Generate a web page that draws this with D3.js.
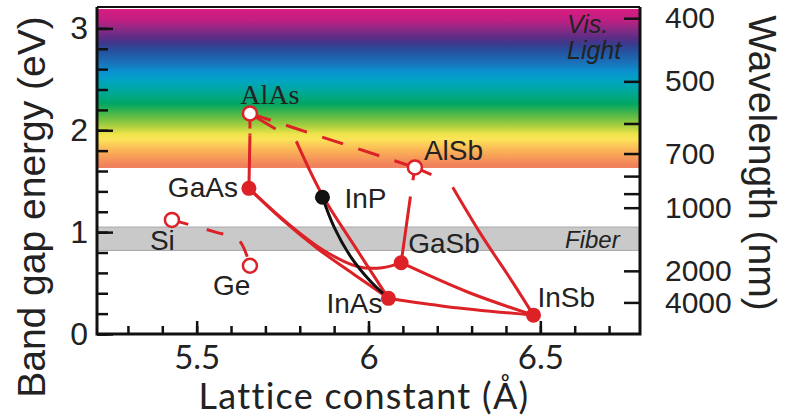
<!DOCTYPE html>
<html>
<head>
<meta charset="utf-8">
<script src="https://cdn.jsdelivr.net/npm/d3@7"></script>
<style>
  body { margin: 0; background: #fff; }
  svg { display: block; }
</style>
</head>
<body>
<svg id="chart" width="788" height="417"></svg>
<script>
// compounds: lattice constant (Å), band gap (eV)
const compounds = ["AlAs", "AlSb", "GaAs", "InP", "GaSb", "InAs", "InSb", "Si", "Ge"]
const latticeConst = [5.655, 6.135, 5.652, 5.866, 6.095, 6.058, 6.48, 5.428, 5.655]
const bandGap = [2.165, 1.635, 1.43, 1.343, 0.70, 0.35, 0.185, 1.12, 0.67]
const gapType = ["indirect", "indirect", "direct", "direct", "direct", "direct", "direct", "indirect", "indirect"]

// alloy curves, points as [lattice constant, band gap]
const curves = [
  {id: "AlAs-GaAs-i", type: "indirect", pts: [[5.655, 2.165], [5.655, 1.95]]},
  {id: "AlAs-GaAs", type: "direct", pts: [[5.655, 1.95], [5.652, 1.43]]},
  {id: "AlAs-AlSb", type: "indirect", pts: [[5.655, 2.165], [6.135, 1.635]]},
  {id: "AlAs-InAs-i", type: "indirect", pts: [[5.655, 2.165], [5.79, 1.89]]},
  {id: "AlAs-InAs", type: "direct", pts: [[5.79, 1.89], [5.866, 1.36], [5.96, 0.86], [6.058, 0.35]]},
  {id: "GaAs-InAs", type: "direct", pts: [[5.652, 1.43], [5.75, 1.12], [5.855, 0.83], [5.96, 0.58], [6.058, 0.35]]},
  {id: "GaAs-GaSb", type: "direct", pts: [[5.652, 1.43], [5.76, 1.10], [5.87, 0.82], [5.97, 0.66], [6.04, 0.65], [6.095, 0.70]]},
  {id: "InP-InAs", type: "direct", pts: [[5.866, 1.343], [5.90, 1.05], [5.95, 0.75], [6.005, 0.52], [6.058, 0.35]]},
  {id: "AlSb-GaSb-i", type: "indirect", pts: [[6.135, 1.635], [6.122, 1.35]]},
  {id: "AlSb-GaSb", type: "direct", pts: [[6.122, 1.35], [6.095, 0.70]]},
  {id: "AlSb-InSb-i", type: "indirect", pts: [[6.135, 1.635], [6.24, 1.48]]},
  {id: "AlSb-InSb", type: "direct", pts: [[6.245, 1.44], [6.325, 0.99], [6.421, 0.50], [6.48, 0.185]]},
  {id: "GaSb-InSb", type: "direct", pts: [[6.095, 0.70], [6.29, 0.41], [6.48, 0.185]]},
  {id: "InAs-InSb", type: "direct", pts: [[6.058, 0.35], [6.229, 0.268], [6.48, 0.185]]},
  {id: "Si-Ge", type: "indirect", pts: [[5.428, 1.12], [5.555, 1.00], [5.622, 0.925], [5.655, 0.67]]}
]

// visible spectrum colours by photon energy (eV)
const spectrumEnergy = [3.19, 3.08, 2.99, 2.91, 2.85, 2.77, 2.67, 2.57, 2.48, 2.38, 2.26, 2.16, 2.06, 1.96, 1.91, 1.81, 1.71, 1.63]
const spectrumColor = ["#d81b80", "#c01f82", "#8a2a85", "#5c2d85", "#3b3a8c", "#2453a0", "#1a70b8", "#0a93d0", "#00a5c0",
  "#00a89a", "#00a663", "#4db848", "#9ccb3d", "#f0e44a", "#fbe35a", "#fbb756", "#f5935a", "#ef7a5c"]
const fiberBand = [0.82, 1.05]

const xMajor = [5.5, 6, 6.5]
const xMinor = d3.range(53, 68).map(d => d / 10)
const yMajor = [0, 1, 2, 3]
const yMinor = d3.range(0, 16).map(d => d / 5)
const wavelengthTicks = [400, 500, 600, 700, 800, 900, 1000, 2000, 4000]
const wavelengthLabels = [400, 500, 700, 1000, 2000, 4000]

const sans = "'Liberation Sans', Arial, sans-serif"
const red = "#dc2127"
const dashes = {
  "AlAs-GaAs-i": "15,5",
  "AlAs-AlSb": "22,16",
  "AlAs-InAs-i": "30,24",
  "AlSb-GaSb-i": "13,17",
  "AlSb-InSb-i": "18,22,4,20",
  "Si-Ge": "17,19"
}
const labelPos = {
  AlAs: {dx: 20, dy: -9, anchor: "middle"},
  AlSb: {dx: 9, dy: -7, anchor: "start"},
  GaAs: {dx: -11, dy: 9, anchor: "end"},
  InP: {dx: 22, dy: 11, anchor: "start"},
  GaSb: {dx: 7, dy: -10, anchor: "start"},
  InAs: {dx: -6, dy: 15, anchor: "end"},
  InSb: {dx: 4, dy: -8, anchor: "start"},
  Si: {dx: -22, dy: 30, anchor: "start"},
  Ge: {dx: -37, dy: 29, anchor: "start"}
}

const svg = d3.select("#chart")
const x = d3.scaleLinear().domain([5.21, 6.79]).range([97, 640])
const y = d3.scaleLinear().domain([0, 3.21]).range([334, 7])
const [x0, x1] = x.range()
const [yBottom, yTop] = y.range()

// spectrum band
const gy0 = y(spectrumEnergy[0]), gy1 = y(spectrumEnergy[spectrumEnergy.length - 1])
const grad = svg.append("defs").append("linearGradient")
  .attr("id", "spectrum")
  .attr("gradientUnits", "userSpaceOnUse")
  .attr("x1", 0).attr("x2", 0)
  .attr("y1", gy0).attr("y2", gy1)
grad.selectAll("stop")
  .data(spectrumEnergy)
  .join("stop")
  .attr("offset", d => (y(d) - gy0) / (gy1 - gy0))
  .attr("stop-color", (d, i) => spectrumColor[i])

svg.append("rect")
  .attr("x", x0).attr("width", x1 - x0)
  .attr("y", gy0).attr("height", gy1 - gy0)
  .attr("fill", "url(#spectrum)")

svg.append("rect")
  .attr("x", x0).attr("width", x1 - x0)
  .attr("y", y(fiberBand[1])).attr("height", y(fiberBand[0]) - y(fiberBand[1]))
  .attr("fill", "#c9c9c9")
  .attr("stroke", "#a9a9a9")
  .attr("stroke-width", 1)

svg.append("text")
  .attr("x", 567).attr("y", 33)
  .attr("font-family", sans).attr("font-style", "italic").attr("font-size", 25)
  .attr("fill", "#222")
  .text("Vis.")
svg.append("text")
  .attr("x", 567).attr("y", 59)
  .attr("font-family", sans).attr("font-style", "italic").attr("font-size", 25)
  .attr("fill", "#222")
  .text("Light")
svg.append("text")
  .attr("x", 565).attr("y", 248)
  .attr("font-family", sans).attr("font-style", "italic").attr("font-size", 24)
  .attr("fill", "#222")
  .text("Fiber")

// axes
function styleAxis(g) {
  g.select(".domain").remove()
  g.selectAll(".tick line").attr("stroke", "#111").attr("stroke-width", 2.5)
  g.selectAll(".tick text").attr("fill", "#222")
}

svg.append("g")
  .attr("transform", `translate(${x0},0)`)
  .call(d3.axisLeft(y).tickValues(yMinor).tickSize(-11).tickFormat(""))
  .call(styleAxis)
svg.append("g")
  .attr("transform", `translate(${x0},0)`)
  .call(d3.axisLeft(y).tickValues(yMajor).tickSize(-16).tickPadding(9).tickFormat(d => String(d)))
  .call(styleAxis)
  .selectAll("text").attr("font-family", sans).attr("font-size", 32)

svg.append("g")
  .attr("transform", `translate(0,${yBottom})`)
  .call(d3.axisBottom(x).tickValues(xMinor).tickSize(-8).tickFormat(""))
  .call(styleAxis)
svg.append("g")
  .attr("transform", `translate(0,${yBottom})`)
  .call(d3.axisBottom(x).tickValues(xMajor).tickSize(-13).tickPadding(12).tickFormat(d => String(d)))
  .call(styleAxis)
  .selectAll("text").attr("font-family", "Lato, sans-serif").attr("font-size", 33)

svg.append("g")
  .attr("transform", `translate(${x1},0)`)
  .call(d3.axisRight(y)
    .tickValues(wavelengthTicks.map(l => 1240 / l))
    .tickSize(-16).tickPadding(25)
    .tickFormat((d, i) => wavelengthLabels.includes(wavelengthTicks[i]) ? wavelengthTicks[i] : ""))
  .call(styleAxis)
  .selectAll("text").attr("font-family", sans).attr("font-size", 30)

// frame
svg.append("path")
  .attr("d", `M${x0},${yTop}V${yBottom}H${x1}V${yTop}`)
  .attr("fill", "none").attr("stroke", "#111").attr("stroke-width", 3)
svg.append("line")
  .attr("x1", x0).attr("x2", x1).attr("y1", yTop).attr("y2", yTop)
  .attr("stroke", "#111").attr("stroke-width", 2)

// alloy curves
const line = d3.line()
  .x(d => x(d[0]))
  .y(d => y(d[1]))
  .curve(d3.curveCatmullRom.alpha(0.5))

svg.append("g")
  .selectAll("path")
  .data(curves)
  .join("path")
  .attr("d", d => line(d.pts))
  .attr("fill", "none")
  .attr("stroke", d => d.id === "InP-InAs" ? "#111" : red)
  .attr("stroke-width", 3)
  .attr("stroke-dasharray", d => dashes[d.id] || null)

// compound markers
const points = compounds.map((name, i) => ({name, a: latticeConst[i], eg: bandGap[i], type: gapType[i]}))

svg.append("g")
  .selectAll("circle")
  .data(points)
  .join("circle")
  .attr("cx", d => x(d.a))
  .attr("cy", d => y(d.eg))
  .attr("r", d => d.type === "indirect" ? 7 : 7.5)
  .attr("fill", d => d.type === "indirect" ? "#fff" : (d.name === "InP" ? "#111" : red))
  .attr("stroke", d => d.type === "indirect" ? red : "none")
  .attr("stroke-width", 2.5)

svg.append("g")
  .selectAll("text")
  .data(points)
  .join("text")
  .attr("x", d => x(d.a) + labelPos[d.name].dx)
  .attr("y", d => y(d.eg) + labelPos[d.name].dy)
  .attr("text-anchor", d => labelPos[d.name].anchor)
  .attr("font-family", d => d.name === "AlAs" ? "'Liberation Serif', 'Times New Roman', serif" : sans)
  .attr("font-size", 28)
  .attr("fill", "#222")
  .text(d => d.name)

// axis titles
svg.append("text")
  .attr("transform", "translate(45,207) rotate(-90)")
  .attr("text-anchor", "middle")
  .attr("font-family", sans).attr("font-size", 39)
  .attr("fill", "#222")
  .text("Band gap energy (eV)")

svg.append("text")
  .attr("transform", "translate(749,163) rotate(90)")
  .attr("text-anchor", "middle")
  .attr("font-family", sans).attr("font-size", 39)
  .attr("fill", "#222")
  .text("Wavelength (nm)")

svg.append("text")
  .attr("x", 364).attr("y", 409)
  .attr("text-anchor", "middle")
  .attr("font-family", "Lato, sans-serif").attr("font-size", 36)
  .attr("letter-spacing", 1.3)
  .attr("fill", "#222")
  .text("Lattice constant (Å)")
</script>
</body>
</html>
